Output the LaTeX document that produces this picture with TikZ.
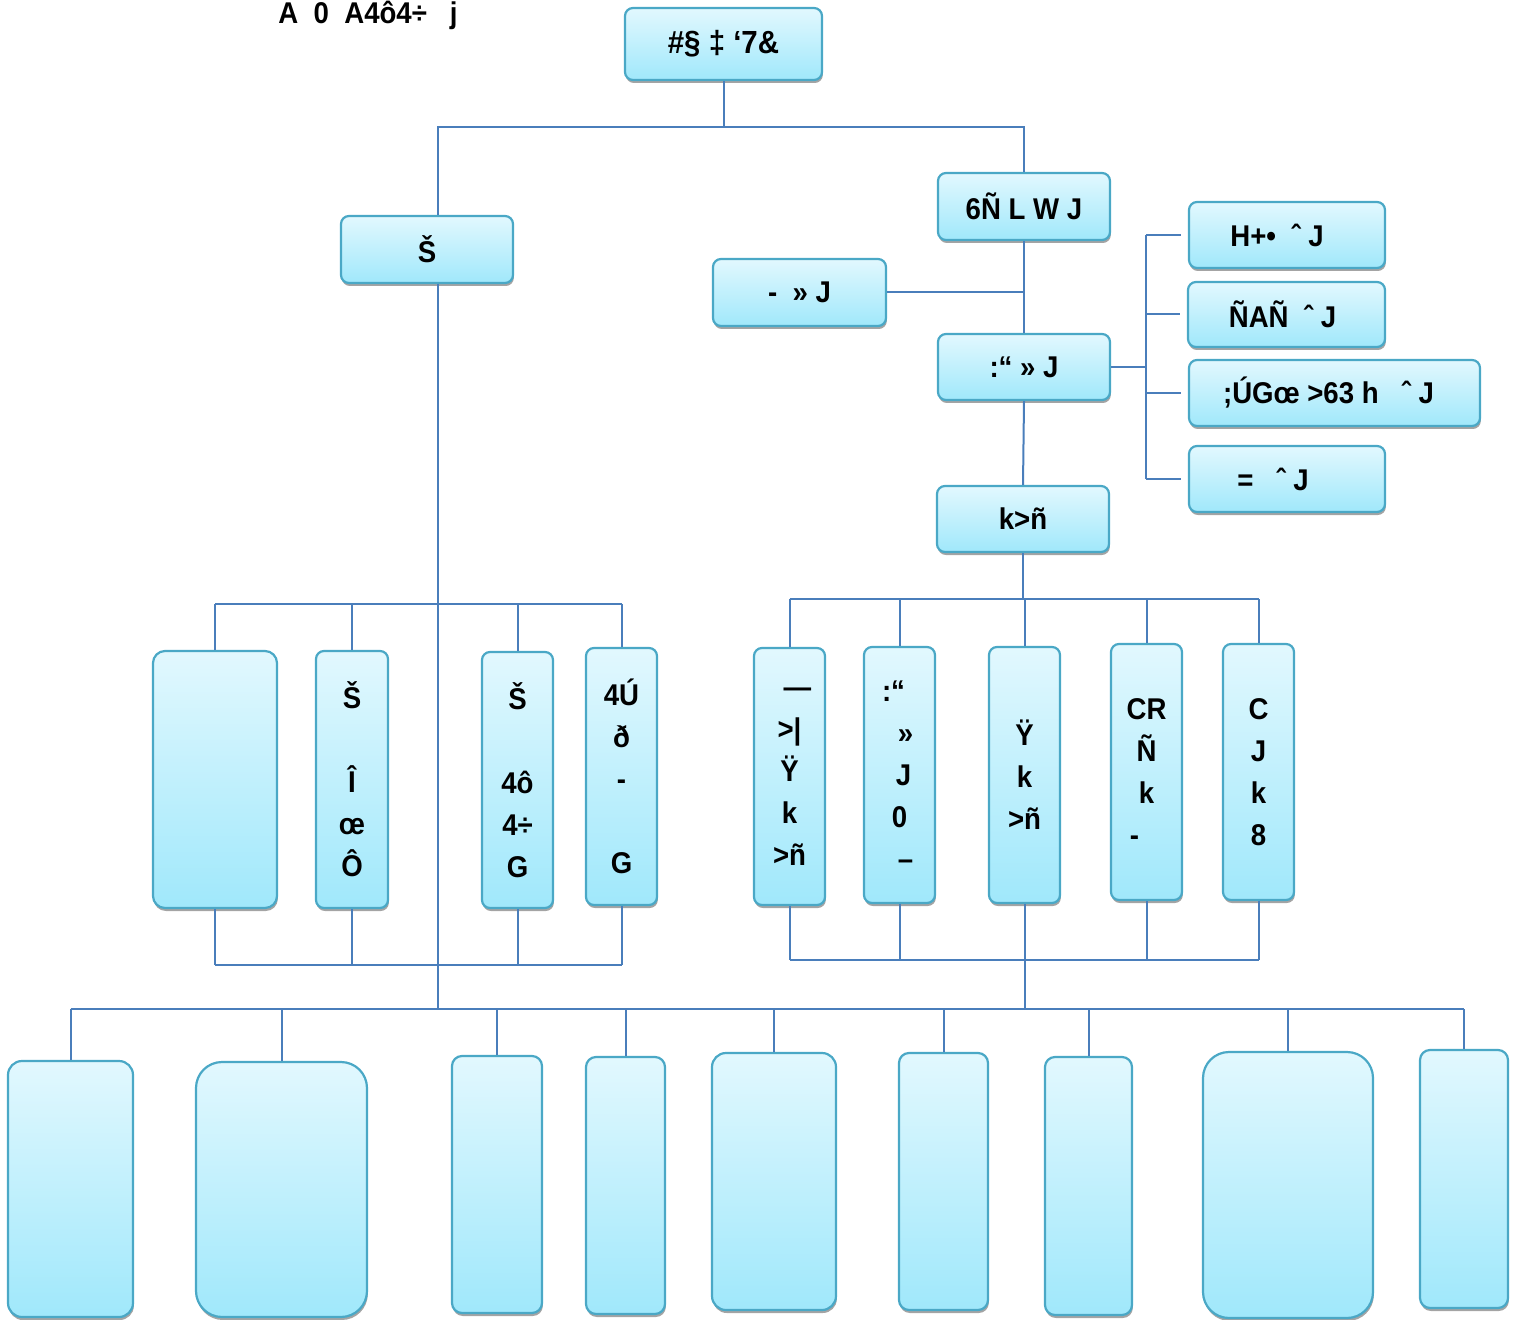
\documentclass[tikz,border=0pt]{standalone}
\usepackage{fontspec}
\setmainfont{Liberation Sans}[FakeStretch=0.92]
\usetikzlibrary{shadows}
\definecolor{boxtop}{HTML}{E2F8FE}
\definecolor{boxbot}{HTML}{A0E8FB}
\definecolor{boxline}{HTML}{4AA8C6}
\definecolor{linkblue}{HTML}{4A7EBB}
\definecolor{shadowgray}{HTML}{A4A4A4}

\begin{document}
\begin{tikzpicture}[x=0.5pt,y=-0.5pt,
    box/.style={draw=boxline, line width=1.1pt, rounded corners=4pt,
      top color=boxtop, bottom color=boxbot,
      drop shadow={shadow xshift=0.4pt, shadow yshift=-1.5pt, fill=shadowgray, opacity=1},
      inner sep=0pt, align=center, font=\bfseries\fontsize{15}{21}\selectfont},
    link/.style={draw=linkblue, line width=1pt}]
  \useasboundingbox (0,0) rectangle (1519,1320);

  \node[anchor=north west, inner sep=0pt, font=\bfseries\fontsize{15}{21}\selectfont] (ttl) at (278,1) {A\ \ 0\ \ A4ô4÷\ \ \ j};

  \node[box, minimum width=98.5pt, minimum height=36pt, font=\bfseries\fontsize{16}{21}\selectfont] (root) at (723.5,44) {\#§ ‡ ‘7\&};
  \node[box, minimum width=86pt, minimum height=33.5pt] (lft) at (427,249.5) {Š};
  \node[box, minimum width=86pt, minimum height=33.5pt] (rgt) at (1024,206.5) {6Ñ L W J};
  \node[box, minimum width=86.5pt, minimum height=33.5pt] (side) at (799.5,292.5) {-\ \ » J};
  \node[box, minimum width=86pt, minimum height=33pt] (mid) at (1024,367) {:“\ » J};
  \node[box, minimum width=86pt, minimum height=33pt] (kn) at (1023,519) {k>ñ};

  \node[box, minimum width=98pt, minimum height=33pt] (r1) at (1287,235) {H+•\ \ ˆ J\hspace*{10pt}};
  \node[box, minimum width=98.5pt, minimum height=32.5pt] (r2) at (1286.5,314.5) {ÑAÑ\ \ ˆ J\hspace*{4pt}};
  \node[box, minimum width=145.5pt, minimum height=33pt] (r3) at (1334.5,393) {;ÚGœ >63 h\ \ \ ˆ J\hspace*{6pt}};
  \node[box, minimum width=98pt, minimum height=33pt] (r4) at (1287,479) {=\ \ \ ˆ J\hspace*{14pt}};

  \node[box, minimum width=62pt, minimum height=128.5pt, rounded corners=6pt] (a1) at (215,779.5) {};
  \node[box, minimum width=36pt, minimum height=128.5pt] (a2) at (352,779.5) {Š\\[21pt]Î\\œ\\Ô};
  \node[box, minimum width=35.5pt, minimum height=128pt] (a3) at (517.5,780) {Š\\[21pt]4ô\\4÷\\G};
  \node[box, minimum width=35.5pt, minimum height=128.5pt] (a4) at (621.5,776.5) {4Ú\\ð\\-\\[21pt]G};

  \node[box, minimum width=35.5pt, minimum height=128.5pt] (b1) at (789.5,776.5) {\hspace*{8pt}—\\>|\\Ÿ\\k\\>ñ};
  \node[box, minimum width=35.5pt, minimum height=128pt] (b2) at (899.5,775) {:“\hspace*{6pt}\\\hspace*{6pt}»\\\hspace*{4pt}J\\0\hspace*{6pt}\\\hspace*{6pt}–};
  \node[box, minimum width=35.5pt, minimum height=128pt] (b3) at (1024.5,775) {Ÿ\\k\\>ñ};
  \node[box, minimum width=35.5pt, minimum height=128pt] (b4) at (1146.5,772) {CR\\Ñ\\k\\-\hspace*{12pt}};
  \node[box, minimum width=35.5pt, minimum height=128pt] (b5) at (1258.5,772) {C\\J\\k\\8};

  \foreach \n/\cx/\cy/\w/\h/\r in {c1/70.5/1189/62.5/128/7, c2/281.5/1189.5/85.5/127.5/13,
      c3/497/1184.5/45/128.5/5, c4/625.5/1185.5/39.5/128.5/5, c5/774/1181.5/62/128.5/7,
      c6/943.5/1181.5/44.5/128.5/5, c7/1088.5/1186/43.5/129/5, c8/1288/1185/85/133/13,
      c9/1464/1179/44/129/5}
    \node[box, minimum width=\w pt, minimum height=\h pt, rounded corners=\r pt] (\n) at (\cx,\cy) {};

  \coordinate (tb) at (0,127);
  \coordinate (spine) at (438,0);
  \coordinate (brk) at (1146,0);
  \coordinate (lbus) at (0,604);
  \coordinate (rbus) at (0,599);
  \coordinate (lfoot) at (0,965);
  \coordinate (rfoot) at (0,960);
  \coordinate (bbus) at (0,1009);

  \draw[link] (root.south) -- (root.south |- tb);
  \draw[link] (spine |- lft.north) -- (spine |- tb) -| (rgt.north);
  \draw[link] (rgt.south) -- (mid.north);
  \draw[link] (side.east) -- (side.east -| rgt.south);
  \draw[link] (mid.south) -- (kn.north);
  \draw[link] (mid.east) -- (mid.east -| brk);
  \draw[link] (brk |- r1.west) -- (brk |- r4.west);
  \foreach \n in {r1,r2,r3,r4}
    \draw[link] (brk |- \n.west) -- ([xshift=-3.5pt]\n.west);

  \draw[link] (a1.north |- lbus) -- (a4.north |- lbus);
  \foreach \n in {a1,a2,a3,a4} {
    \draw[link] (\n.north) -- (\n.north |- lbus);
    \draw[link] (\n.south) -- (\n.south |- lfoot);
  }
  \draw[link] (a1.south |- lfoot) -- (a4.south |- lfoot);

  \draw[link] (kn.south) -- (kn.south |- rbus);
  \draw[link] (b1.north |- rbus) -- (b5.north |- rbus);
  \foreach \n in {b1,b2,b3,b4,b5} {
    \draw[link] (\n.north) -- (\n.north |- rbus);
    \draw[link] (\n.south) -- (\n.south |- rfoot);
  }
  \draw[link] (b1.south |- rfoot) -- (b5.south |- rfoot);

  \draw[link] (spine |- lft.south) -- (spine |- bbus);
  \draw[link] (b3.south |- rfoot) -- (b3.south |- bbus);
  \draw[link] (c1.north |- bbus) -- (c9.north |- bbus);
  \foreach \n in {c1,c2,c3,c4,c5,c6,c7,c8,c9}
    \draw[link] (\n.north |- bbus) -- (\n.north);
\end{tikzpicture}
\end{document}
